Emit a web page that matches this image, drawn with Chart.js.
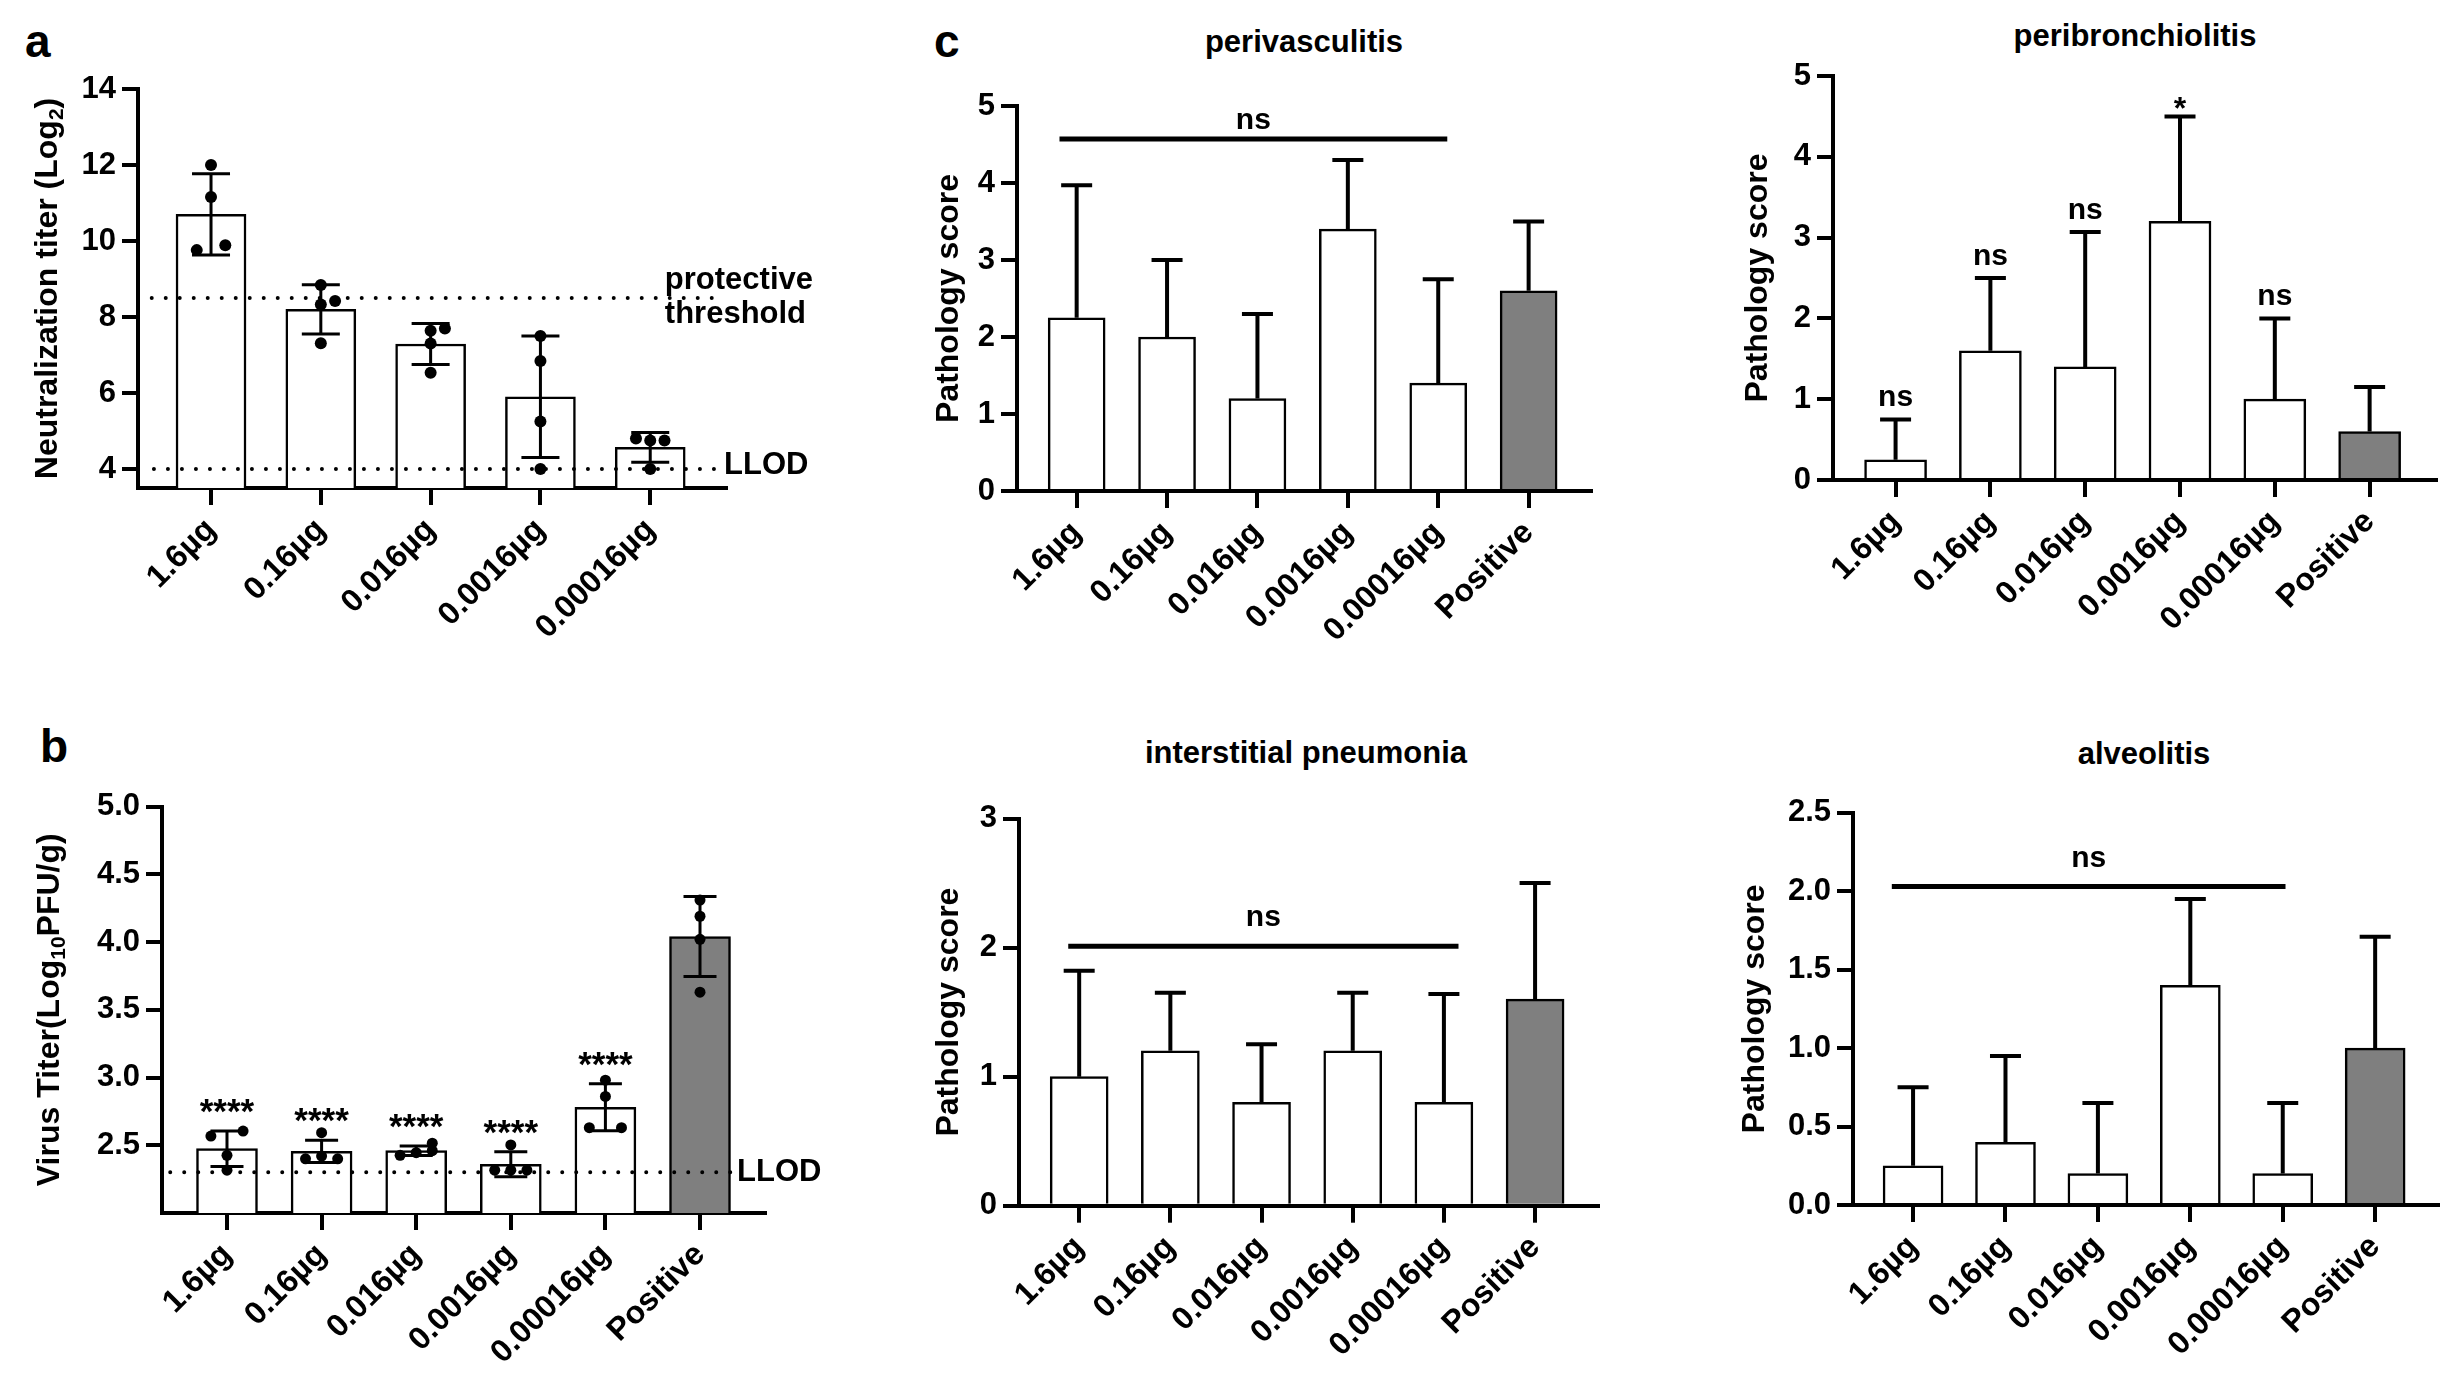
<!DOCTYPE html>
<html><head><meta charset="utf-8">
<script src="https://cdn.jsdelivr.net/npm/chart.js@4.4.1/dist/chart.umd.min.js"></script>
<style>
html,body{margin:0;padding:0;background:#fff;}
body{width:2459px;height:1385px;position:relative;overflow:hidden;font-family:"Liberation Sans",Arial,sans-serif;}
canvas{position:absolute;}
.t{position:absolute;font-weight:bold;color:#000;line-height:1;white-space:nowrap;}
.c{text-align:center;width:600px;font-size:31px;}
</style></head><body>
<div class="t" style="left:25px;top:18px;font-size:46px">a</div>
<div class="t" style="left:40px;top:723px;font-size:46px">b</div>
<div class="t" style="left:934px;top:18px;font-size:46px">c</div>
<div class="t c" style="left:1004px;top:26px">perivasculitis</div>
<div class="t c" style="left:1835px;top:20px">peribronchiolitis</div>
<div class="t c" style="left:1006px;top:737px">interstitial pneumonia</div>
<div class="t c" style="left:1844px;top:738px">alveolitis</div>
<script>
const FONT = '"Liberation Sans", Arial, Helvetica, sans-serif';
const GRAY = '#7f7f7f';

// ---- categories ----
const doses = ['1.6µg', '0.16µg', '0.016µg', '0.0016µg', '0.00016µg'];
const dosesPositive = ['1.6µg', '0.16µg', '0.016µg', '0.0016µg', '0.00016µg', 'Positive'];

// ---- panel a: neutralization titer ----
const neutMean = [10.70, 8.20, 7.29, 5.90, 4.57];
const neutSD = [1.07, 0.65, 0.54, 1.60, 0.39];
const neutDots = [[12.0, 11.16, 9.89, 9.76], [8.84, 8.42, 8.33, 7.31], [7.70, 7.64, 7.30, 6.53], [7.50, 6.84, 5.25, 4.00], [4.80, 4.75, 4.75, 4.00]];
const neutJitter = [[0, 0, 0.13, -0.13], [0, 0.13, 0, 0], [0.13, 0, 0, 0], [0, 0, 0, 0], [-0.13, 0, 0.13, 0]];
const neutTicks = [4, 6, 8, 10, 12, 14];
const protectiveThreshold = 8.5;
const neutLLOD = 4;

// ---- panel b: virus titer ----
const virusMean = [2.475, 2.455, 2.46, 2.36, 2.78, 4.04];
const virusSD = [0.131, 0.082, 0.035, 0.092, 0.173, 0.295];
const virusDots = [[2.568, 2.605, 2.426, 2.316], [2.593, 2.40, 2.42, 2.40], [2.426, 2.445, 2.46, 2.515], [2.502, 2.316, 2.316, 2.316], [2.98, 2.86, 2.63, 2.63], [4.31, 4.19, 4.02, 3.63]];
const virusJitter = [[-0.17, 0.17, 0, 0], [0, -0.17, 0, 0.17], [-0.17, 0, 0.17, 0.17], [0, -0.17, 0, 0.17], [0, 0, -0.17, 0.17], [0, 0, 0, 0]];
const virusTicks = [2.5, 3.0, 3.5, 4.0, 4.5, 5.0];
const virusLLOD = 2.3;
const virusSig = ['****', '****', '****', '****', '****', ''];

// ---- panel c: pathology scores ----
const periMean = [2.25, 2.0, 1.2, 3.4, 1.4, 2.6];
const periSD = [1.72, 1.0, 1.1, 0.9, 1.35, 0.9];
const peribrMean = [0.25, 1.6, 1.4, 3.2, 1.0, 0.6];
const peribrSD = [0.5, 0.9, 1.67, 1.3, 1.0, 0.55];
const peribrSig = ['ns', 'ns', 'ns', '*', 'ns', ''];
const interMean = [1.0, 1.2, 0.8, 1.2, 0.8, 1.6];
const interSD = [0.82, 0.45, 0.45, 0.45, 0.84, 0.9];
const alvMean = [0.25, 0.4, 0.2, 1.4, 0.2, 1.0];
const alvSD = [0.5, 0.55, 0.45, 0.55, 0.45, 0.71];
const ticks0to5 = [0, 1, 2, 3, 4, 5];
const ticks0to3 = [0, 1, 2, 3];
const ticksAlv = [0, 0.5, 1.0, 1.5, 2.0, 2.5];

function makeExtra(o) {
  return {
    id: 'extra_' + o.id,
    afterDatasetsDraw(chart) {
      const ctx = chart.ctx, x = chart.scales.x, y = chart.scales.y, ca = chart.chartArea;
      ctx.save();
      ctx.strokeStyle = '#000'; ctx.fillStyle = '#000';
      // reference dotted lines
      (o.refs || []).forEach(r => {
        const py = y.getPixelForValue(r.value);
        ctx.save();
        ctx.lineWidth = 4; ctx.lineCap = 'round'; ctx.setLineDash([0, 14]);
        ctx.beginPath();
        ctx.moveTo(x.getPixelForValue(r.from), py);
        ctx.lineTo(x.getPixelForValue(r.to), py);
        ctx.stroke();
        ctx.restore();
        ctx.font = 'bold 31px ' + FONT;
        ctx.textAlign = 'left'; ctx.textBaseline = 'middle';
        r.text.forEach((t, k) => ctx.fillText(t, x.getPixelForValue(r.to) + r.dx, py + r.dy[k]));
      });
      // error bars
      o.means.forEach((m, i) => {
        const px = x.getPixelForValue(i);
        const pt = y.getPixelForValue(m + o.sd[i]);
        const pb = o.twoSided ? y.getPixelForValue(m - o.sd[i]) : y.getPixelForValue(m);
        const hw = o.capW / 2;
        ctx.lineWidth = o.errW; ctx.lineCap = 'butt';
        ctx.beginPath();
        ctx.moveTo(px, pt); ctx.lineTo(px, pb);
        ctx.moveTo(px - hw, pt); ctx.lineTo(px + hw, pt);
        if (o.twoSided) { ctx.moveTo(px - hw, pb); ctx.lineTo(px + hw, pb); }
        ctx.stroke();
      });
      // significance marks above error bars
      (o.sig || []).forEach((s, i) => {
        if (!s) return;
        const px = x.getPixelForValue(i);
        const pt = y.getPixelForValue(o.means[i] + o.sd[i]);
        ctx.textAlign = 'center'; ctx.textBaseline = 'alphabetic';
        if (s === 'ns') { ctx.font = 'bold 30px ' + FONT; ctx.fillText(s, px, pt - o.nsGap); }
        else { ctx.font = 'bold ' + o.starSize + 'px ' + FONT; ctx.fillText(s, px, pt - o.starGap); }
      });
      // ns bracket
      if (o.bracket) {
        const b = o.bracket;
        const py = y.getPixelForValue(b.value);
        const x0 = x.getPixelForValue(b.from), x1 = x.getPixelForValue(b.to);
        ctx.lineWidth = 5; ctx.lineCap = 'butt';
        ctx.beginPath(); ctx.moveTo(x0, py); ctx.lineTo(x1, py); ctx.stroke();
        ctx.font = 'bold 30px ' + FONT; ctx.textAlign = 'center'; ctx.textBaseline = 'alphabetic';
        ctx.fillText('ns', (x0 + x1) / 2, py - b.gap);
      }
      // y axis title (with subscript)
      const segs = o.yTitle;
      const big = 'bold 32px ' + FONT, small = 'bold 21px ' + FONT;
      let total = 0;
      segs.forEach(s => { ctx.font = s.sub ? small : big; total += ctx.measureText(s.t).width; });
      ctx.translate(o.titleX, (ca.top + ca.bottom) / 2);
      ctx.rotate(-Math.PI / 2);
      ctx.textAlign = 'left'; ctx.textBaseline = 'middle';
      let cx = -total / 2;
      segs.forEach(s => {
        ctx.font = s.sub ? small : big;
        ctx.fillText(s.t, cx, s.sub ? 9 : 0);
        cx += ctx.measureText(s.t).width;
      });
      ctx.restore();
    }
  };
}

function panel(o) {
  const [bx, by, bw, bh] = o.box;
  const cv = document.createElement('canvas');
  cv.width = bw; cv.height = bh;
  cv.style.left = bx + 'px'; cv.style.top = by + 'px';
  cv.style.width = bw + 'px'; cv.style.height = bh + 'px';
  document.body.appendChild(cv);
  const L = o.area[0] - bx, T = o.area[1] - by, R = bx + bw - o.area[2], B = by + bh - o.area[3];
  const datasets = [{
    type: 'bar',
    data: o.means.map((m, i) => ({ x: i, y: m })),
    backgroundColor: o.cats.map(c => c === 'Positive' ? GRAY : '#ffffff'),
    borderColor: '#000', borderWidth: 2.5, barThickness: o.barW, base: o.yMin, order: 2
  }];
  if (o.dots) {
    datasets.push({
      type: 'line', showLine: false, order: 1,
      data: o.dots.flatMap((arr, i) => arr.map((v, k) => ({ x: i + o.jitter[i][k], y: v }))),
      pointRadius: o.dotR, pointBackgroundColor: '#000', pointBorderWidth: 0, pointBorderColor: '#000'
    });
  }
  const xFont = { family: FONT, size: 32, weight: 'bold' };
  const yFont = { family: FONT, size: 31, weight: 'bold' };
  new Chart(cv, {
    type: 'bar',
    data: { datasets },
    plugins: [makeExtra(o)],
    options: {
      responsive: false, devicePixelRatio: 1, animation: false, events: [],
      layout: { padding: { top: T, right: R, left: 0, bottom: 0 } },
      plugins: { legend: { display: false }, tooltip: { enabled: false } },
      scales: {
        x: {
          type: 'linear', min: o.xMin, max: o.xMax, offset: false, z: 1,
          afterBuildTicks: s => { s.ticks = o.cats.map((c, i) => ({ value: i })); },
          afterFit: s => { s.height = B; },
          ticks: { callback: v => o.cats[Math.round(v)], autoSkip: false, minRotation: 45, maxRotation: 45, font: xFont, color: '#000', padding: 6 },
          grid: { offset: false, drawOnChartArea: false, drawTicks: true, tickLength: 17, tickWidth: 4, tickColor: '#000', lineWidth: 4, color: '#000' },
          border: { display: true, color: '#000', width: 4 }
        },
        y: {
          type: 'linear', min: o.yMin, max: o.yMax, z: 1,
          afterBuildTicks: s => { s.ticks = o.yTicks.map(v => ({ value: v })); },
          afterFit: s => { s.width = L; },
          ticks: { callback: v => o.fmt ? Number(v).toFixed(o.fmt) : String(v), font: yFont, color: '#000', padding: 6 },
          grid: { drawOnChartArea: false, drawTicks: true, tickLength: 16, tickWidth: 4, tickColor: '#000', lineWidth: 4, color: '#000' },
          border: { display: true, color: '#000', width: 4 }
        }
      }
    }
  });
}

// panel a
panel({
  id: 'a', box: [0, 0, 850, 700], area: [138, 89, 726, 488],
  cats: doses, means: neutMean, sd: neutSD, dots: neutDots, jitter: neutJitter, dotR: 6,
  twoSided: true, errW: 3, capW: 38, barW: 70,
  xMin: -0.665, xMax: 4.69, yMin: 3.5, yMax: 14, yTicks: neutTicks, fmt: 0,
  refs: [
    { value: protectiveThreshold, from: -0.54, to: 4.57, dx: -48, dy: [-18, 16], text: ['protective', 'threshold'] },
    { value: neutLLOD, from: -0.52, to: 4.60, dx: 8, dy: [-4], text: ['LLOD'] }
  ],
  titleX: 48, yTitle: [{ t: 'Neutralization titer (Log' }, { t: '2', sub: true }, { t: ')' }]
});

// panel b
panel({
  id: 'b', box: [0, 720, 850, 665], area: [162, 806.5, 765, 1213],
  cats: dosesPositive, means: virusMean, sd: virusSD, dots: virusDots, jitter: virusJitter, dotR: 5.5,
  twoSided: true, errW: 3, capW: 33, barW: 61,
  xMin: -0.687, xMax: 5.687, yMin: 2.0, yMax: 5.0, yTicks: virusTicks, fmt: 1,
  refs: [{ value: virusLLOD, from: -0.6, to: 5.36, dx: 3, dy: [0], text: ['LLOD'] }],
  sig: virusSig, starGap: 8, starSize: 35, nsGap: 13,
  titleX: 50, yTitle: [{ t: 'Virus Titer(Log' }, { t: '10', sub: true }, { t: 'PFU/g)' }]
});

const pathTitle = [{ t: 'Pathology score' }];

panel({
  id: 'peri', box: [900, 0, 720, 700], area: [1017, 106, 1591, 491],
  cats: dosesPositive, means: periMean, sd: periSD,
  twoSided: false, errW: 4, capW: 31, barW: 57,
  xMin: -0.66, xMax: 5.69, yMin: 0, yMax: 5, yTicks: ticks0to5, fmt: 0,
  bracket: { value: 4.57, from: -0.19, to: 4.10, gap: 10 },
  titleX: 49, yTitle: pathTitle
});

panel({
  id: 'peribr', box: [1720, 0, 739, 700], area: [1833, 76, 2436, 480],
  cats: dosesPositive, means: peribrMean, sd: peribrSD,
  twoSided: false, errW: 4, capW: 31, barW: 62,
  xMin: -0.66, xMax: 5.70, yMin: 0, yMax: 5, yTicks: ticks0to5, fmt: 0,
  sig: peribrSig, nsGap: 13, starGap: -3, starSize: 32,
  titleX: 38, yTitle: pathTitle
});

panel({
  id: 'inter', box: [900, 700, 720, 685], area: [1019, 818.5, 1598, 1205.7],
  cats: dosesPositive, means: interMean, sd: interSD,
  twoSided: false, errW: 4, capW: 31, barW: 58,
  xMin: -0.66, xMax: 5.69, yMin: 0, yMax: 3, yTicks: ticks0to3, fmt: 0,
  bracket: { value: 2.01, from: -0.12, to: 4.16, gap: 20 },
  titleX: 49, yTitle: pathTitle
});

panel({
  id: 'alv', box: [1720, 700, 739, 685], area: [1853, 812.8, 2438, 1205],
  cats: dosesPositive, means: alvMean, sd: alvSD,
  twoSided: false, errW: 4, capW: 31, barW: 60,
  xMin: -0.65, xMax: 5.68, yMin: 0, yMax: 2.5, yTicks: ticksAlv, fmt: 1,
  bracket: { value: 2.03, from: -0.23, to: 4.03, gap: 20 },
  titleX: 35, yTitle: pathTitle
});
</script>
</body></html>
